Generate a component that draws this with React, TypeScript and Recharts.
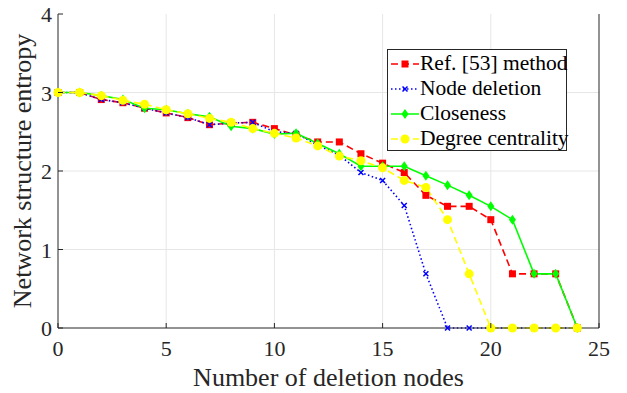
import { LineChart, Line, XAxis, YAxis, CartesianGrid } from "recharts";

const nodes = [0, 1, 2, 3, 4, 5, 6, 7, 8, 9, 10, 11, 12, 13, 14, 15, 16, 17, 18, 19, 20, 21, 22, 23, 24];
const refMethod = [3.0, 3.0, 2.91, 2.87, 2.8, 2.74, 2.68, 2.59, 2.61, 2.62, 2.54, 2.46, 2.37, 2.37, 2.22, 2.1, 1.98, 1.69, 1.55, 1.55, 1.38, 0.69, 0.69, 0.69, 0];
const nodeDeletion = [3.0, 3.0, 2.91, 2.87, 2.8, 2.74, 2.68, 2.59, 2.61, 2.62, 2.5, 2.48, 2.33, 2.2, 1.98, 1.88, 1.56, 0.69, 0, 0, 0, 0, 0, 0, 0];
const closeness = [3.0, 3.0, 2.96, 2.91, 2.8, 2.78, 2.73, 2.69, 2.57, 2.54, 2.47, 2.48, 2.35, 2.22, 2.06, 2.06, 2.06, 1.94, 1.82, 1.69, 1.55, 1.38, 0.69, 0.69, 0];
const degree = [3.0, 3.0, 2.96, 2.9, 2.85, 2.78, 2.73, 2.67, 2.62, 2.54, 2.48, 2.42, 2.32, 2.19, 2.13, 2.04, 1.88, 1.79, 1.38, 0.69, 0, 0, 0, 0, 0];
const xTicks = [0, 5, 10, 15, 20, 25];
const yTicks = [0, 1, 2, 3, 4];

const data = nodes.map((n, i) => ({
    n,
    refMethod: refMethod[i],
    nodeDeletion: nodeDeletion[i],
    closeness: closeness[i],
    degree: degree[i],
}));

const FONT = "'Liberation Serif', 'Times New Roman', serif";
const INK = "#262626";
const W = 627;
const H = 393;
const M = { top: 14, right: 28, left: 58, bottom: 65 };
const plotBottom = H - M.bottom;
const plotRight = W - M.right;

const square = (color: string) => (p: any) => (
    <rect key={`s${p.index}`} x={p.cx - 3.5} y={p.cy - 3.5} width={7} height={7} fill={color} />
);
const cross = (color: string) => (p: any) => (
    <path key={`x${p.index}`} d={`M${p.cx - 2.5},${p.cy - 2.5}L${p.cx + 2.5},${p.cy + 2.5}M${p.cx - 2.5},${p.cy + 2.5}L${p.cx + 2.5},${p.cy - 2.5}`} stroke={color} strokeWidth={1.5} />
);
const diamond = (color: string) => (p: any) => (
    <path key={`d${p.index}`} d={`M${p.cx},${p.cy - 5}L${p.cx + 3.5},${p.cy}L${p.cx},${p.cy + 5}L${p.cx - 3.5},${p.cy}Z`} fill={color} />
);
const circle = (color: string) => (p: any) => <circle key={`c${p.index}`} cx={p.cx} cy={p.cy} r={4.5} fill={color} />;

const series = [
    { key: "refMethod", name: "Ref. [53] method", color: "#FF0000", dash: "7 4", dot: square },
    { key: "nodeDeletion", name: "Node deletion", color: "#0000FF", dash: "1.5 2.5", dot: cross },
    { key: "closeness", name: "Closeness", color: "#00FF00", dash: undefined, dot: diamond },
    { key: "degree", name: "Degree centrality", color: "#FFFF00", dash: "7 4", dot: circle },
];

const BottomTick = (p: any) => (
    <g>
        <line x1={p.x} x2={p.x} y1={plotBottom} y2={plotBottom - 5} stroke={INK} />
        <text x={p.x} y={plotBottom + 28} textAnchor="middle" fontFamily={FONT} fontSize={22} fill={INK}>
            {p.payload.value}
        </text>
    </g>
);
const LeftTick = (p: any) => (
    <g>
        <line x1={M.left} x2={M.left + 5} y1={p.y} y2={p.y} stroke={INK} />
        <text x={M.left - 6} y={p.y + 8} textAnchor="end" fontFamily={FONT} fontSize={22} fill={INK}>
            {p.payload.value}
        </text>
    </g>
);
const TopTick = (p: any) => <line x1={p.x} x2={p.x} y1={M.top} y2={M.top + 5} stroke={INK} />;
const RightTick = (p: any) => <line x1={plotRight} x2={plotRight - 5} y1={p.y} y2={p.y} stroke={INK} />;

function LegendBox() {
    return (
        <div
            style={{
                position: "absolute",
                left: 387,
                top: 49,
                width: 180,
                height: 102,
                border: "1px solid #262626",
                background: "#fff",
                fontFamily: FONT,
                fontSize: 21.5,
                color: "#000",
                boxSizing: "border-box",
            }}
        >
            {series.map((s, i) => (
                <div key={s.key} style={{ position: "absolute", left: 0, top: 1 + i * 25, height: 25, display: "flex", alignItems: "center", whiteSpace: "nowrap" }}>
                    <svg width={30} height={12} style={{ marginLeft: 2 }}>
                        <line x1={1} x2={29} y1={6} y2={6} stroke={s.color} strokeWidth={1.5} strokeDasharray={s.dash} />
                        {s.dot(s.color)({ cx: 15, cy: 6, index: 0 })}
                    </svg>
                    <span style={{ lineHeight: "25px" }}>{s.name}</span>
                </div>
            ))}
        </div>
    );
}

export default function App() {
    return (
        <div style={{ position: "relative", width: W, height: H, background: "#fff" }}>
            <style>{`body{margin:0}`}</style>
            <LineChart width={W} height={H} data={data} margin={{ top: M.top, right: 0, left: 0, bottom: 0 }}>
                <CartesianGrid stroke="#e6e6e6" verticalValues={[5, 10, 15, 20]} horizontalValues={[1, 2, 3]} />
                <XAxis
                    dataKey="n"
                    type="number"
                    domain={[0, 25]}
                    ticks={xTicks}
                    height={M.bottom}
                    tickSize={0}
                    tickLine={false}
                    axisLine={{ stroke: INK }}
                    tick={BottomTick}
                    interval={0}
                    label={{ value: "Number of deletion nodes", position: "insideBottom", offset: 7, style: { fontFamily: FONT, fontSize: 26, fill: INK } }}
                />
                <XAxis xAxisId="top" orientation="top" type="number" domain={[0, 25]} ticks={xTicks} height={0} tickSize={0} tickLine={false} axisLine={{ stroke: INK }} tick={TopTick} interval={0} />
                <YAxis
                    type="number"
                    domain={[0, 4]}
                    ticks={yTicks}
                    width={M.left}
                    tickSize={0}
                    tickLine={false}
                    axisLine={{ stroke: INK }}
                    tick={LeftTick}
                    interval={0}
                    label={{ value: "Network structure entropy", angle: -90, position: "center", dx: -7, style: { fontFamily: FONT, fontSize: 26, fill: INK, textAnchor: "middle" } }}
                />
                <YAxis yAxisId="right" orientation="right" type="number" domain={[0, 4]} ticks={yTicks} width={M.right} tickSize={0} tickLine={false} axisLine={{ stroke: INK }} tick={RightTick} interval={0} />
                {series.map((s) => (
                    <Line
                        key={s.key}
                        type="linear"
                        dataKey={s.key}
                        name={s.name}
                        stroke={s.color}
                        strokeWidth={1.6}
                        strokeDasharray={s.dash}
                        dot={s.dot(s.color)}
                        activeDot={false}
                        isAnimationActive={false}
                    />
                ))}
            </LineChart>
            <LegendBox />
        </div>
    );
}
